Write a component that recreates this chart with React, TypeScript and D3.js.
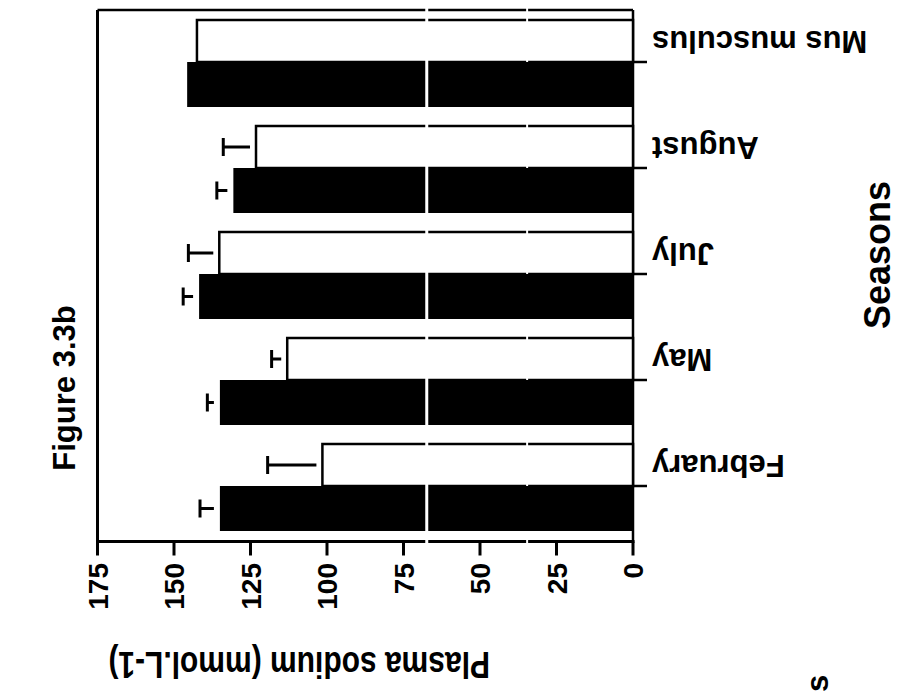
import React from "react";
import * as d3 from "d3";

const categories = ["Mus musculus", "August", "July", "May", "February"];
const openValues = [142.5, 123.2, 135.2, 113.0, 101.5];
const openErrors = [0, 10.7, 10.1, 5.1, 17.9];
const filledValues = [145.7, 130.6, 141.8, 135.0, 135.0];
const filledErrors = [0, 5.4, 5.2, 4.1, 6.5];
const valueTicks = [0, 25, 50, 75, 100, 125, 150, 175];
const valueTickLabels = ["0", "25", "50", "75", "100", "125", "150", "175"];
const scanBreaks = [67.4];
const thinBreaks = [34.6];

const W = 898;
const H = 698;
const FONT = "'Liberation Sans', Arial, Helvetica, sans-serif";

export default function App() {
  const x = d3.scaleLinear().domain([0, 175]).range([633, 97.5]);
  const y = d3.scalePoint<string>().domain(categories).range([62, 486]);
  const openH = 42;
  const fillH = 45;
  const axisY = 541.5;
  const topY = 10;
  const gap = 6;
  const capH = 18;

  return (
    <svg
      width={W}
      height={H}
      style={{ position: "absolute", left: 0, top: 0, background: "#fff" }}
      fontFamily={FONT}
      fontWeight="bold"
    >
      <rect x={0} y={0} width={W} height={H} fill="#fff" />
      {/* frame */}
      <line x1={x(175)} x2={x(175)} y1={topY} y2={axisY} stroke="#000" strokeWidth={3} />
      <line x1={x(175)} x2={x(0)} y1={topY} y2={topY} stroke="#000" strokeWidth={2.5} />
      <line x1={x(0)} x2={x(0)} y1={topY} y2={axisY} stroke="#000" strokeWidth={2.5} />
      <line x1={x(175) - 1.5} x2={x(0) + 1.5} y1={axisY} y2={axisY} stroke="#000" strokeWidth={3} />
      {/* open bars */}
      {categories.map((c, i) => (
        <rect
          key={"o" + c}
          x={x(openValues[i])}
          y={(y(c) as number) - openH}
          width={x(0) - x(openValues[i])}
          height={openH}
          fill="#fff"
          stroke="#000"
          strokeWidth={2.5}
        />
      ))}
      {/* value ticks */}
      {valueTicks.map((v) => (
        <line key={"vt" + v} x1={x(v)} x2={x(v)} y1={axisY} y2={axisY + 14} stroke="#000" strokeWidth={3} />
      ))}
      {/* thin-line scan breaks */}
      {thinBreaks.map((v) => (
        <line key={"tb" + v} x1={x(v)} x2={x(v)} y1={topY - 3} y2={axisY + 3} stroke="#fff" strokeWidth={2} />
      ))}
      {/* filled bars */}
      {categories.map((c, i) => (
        <rect
          key={"f" + c}
          x={x(filledValues[i])}
          y={y(c) as number}
          width={x(0) - x(filledValues[i])}
          height={fillH}
          fill="#000"
        />
      ))}
      {/* category ticks */}
      {categories.map((c) => (
        <line key={"ct" + c} x1={x(0)} x2={x(0) + 14} y1={y(c) as number} y2={y(c) as number} stroke="#000" strokeWidth={2.5} />
      ))}
      {/* error bars */}
      {categories.map((c, i) => {
        const out: JSX.Element[] = [];
        const yc = y(c) as number;
        if (openErrors[i] > 0) {
          const ym = yc - openH / 2;
          const xe = x(openValues[i] + openErrors[i]);
          out.push(
            <g key={"eo" + c}>
              <line x1={x(openValues[i]) - gap} x2={xe} y1={ym} y2={ym} stroke="#000" strokeWidth={3} />
              <line x1={xe} x2={xe} y1={ym - capH / 2} y2={ym + capH / 2} stroke="#000" strokeWidth={3} />
            </g>
          );
        }
        if (filledErrors[i] > 0) {
          const ym = yc + fillH / 2;
          const xe = x(filledValues[i] + filledErrors[i]);
          out.push(
            <g key={"ef" + c}>
              <line x1={x(filledValues[i]) - gap} x2={xe} y1={ym} y2={ym} stroke="#000" strokeWidth={3} />
              <line x1={xe} x2={xe} y1={ym - capH / 2} y2={ym + capH / 2} stroke="#000" strokeWidth={3} />
            </g>
          );
        }
        return out;
      })}
      {/* scan break through everything */}
      {scanBreaks.map((v) => (
        <line key={"sb" + v} x1={x(v)} x2={x(v)} y1={0} y2={axisY + 4} stroke="#fff" strokeWidth={3} />
      ))}
      {/* value tick labels */}
      {valueTicks.map((v, i) => (
        <text
          key={"vl" + v}
          transform={`translate(${x(v) + 10},563) rotate(-90)`}
          textAnchor="end"
          fontSize={28}
          fill="#000"
        >
          {valueTickLabels[i]}
        </text>
      ))}
      {/* category labels (upside down) */}
      {categories.map((c) => (
        <text
          key={"cl" + c}
          transform={`translate(652,${(y(c) as number) - 31}) rotate(180)`}
          textAnchor="end"
          fontSize={31}
          fill="#000"
        >
          {c}
        </text>
      ))}
      {/* axis title */}
      <text transform="translate(490,652) rotate(180) scale(1,1.2)" textAnchor="start" fontSize={30} fill="#000">
        Plasma sodium (mmol.L-1)
      </text>
      <text transform="translate(890,255) rotate(-90)" textAnchor="middle" fontSize={36} fill="#000">
        Seasons
      </text>
      <text transform="translate(75,388) rotate(-90)" textAnchor="middle" fontSize={31} fill="#000">
        Figure 3.3b
      </text>
      <text transform="translate(828,692) rotate(-90)" textAnchor="start" fontSize={31} fill="#000">
        s
      </text>
    </svg>
  );
}
